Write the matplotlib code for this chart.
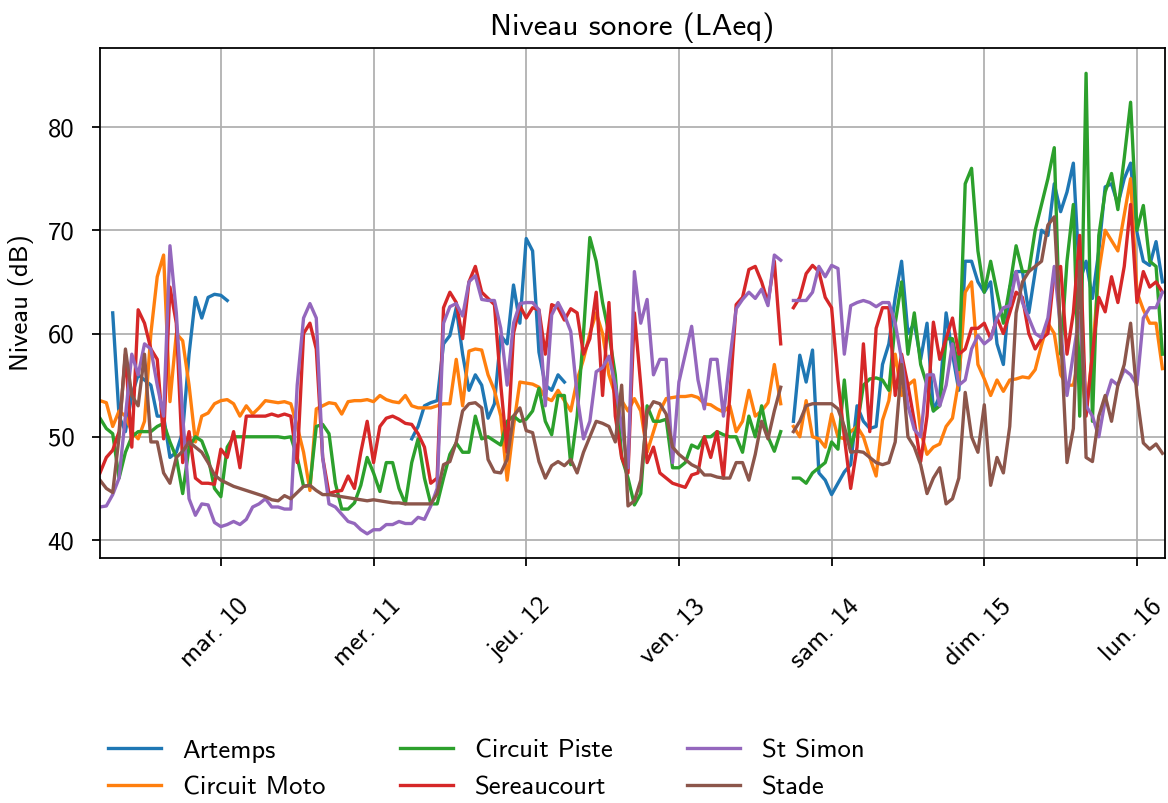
import numpy as np
import pandas as pd
import matplotlib
matplotlib.use("Agg")
import matplotlib.pyplot as plt
import matplotlib.transforms as mtransforms

nan = float("nan")

# ---------------- data (hourly, 2020-03-09 05:00 -> 2020-03-16 04:00) ----------------
start_time = "2020-03-09 05:00"
n_points = 168

artemps = [
    nan, nan, 62, 52, 50.5, 54, 56, 55.5, 55, 52, 52, 48, 48.5, 50.5, 58, 63.5, 61.5, 63.5, 63.8, 63.7, 63.2,
    nan, nan, nan, nan, nan, nan,
    nan, nan, nan, nan, nan, nan, nan, nan, nan, nan, nan, nan, nan, nan, nan, nan, nan, nan, nan, nan, nan, nan,
    49.8, 51, 53, 53.3, 53.5,
    59, 59.8, 62.5, 58, 54.5, 56, 55, 51.8, 53.2, 59.8, 59, 64.7, 61, 69.2, 68, 58.2, 55, 54.5, 56, 55.3,
    nan, nan, nan, nan, nan, nan, nan, nan,
    nan, nan, nan, nan, nan, nan, nan, nan, nan, nan, nan, nan, nan, nan, nan, nan, nan, nan, nan, nan, nan, nan,
    nan, nan, nan, nan, nan,
    51.5, 57.9, 55.3, 58.4, 46.5, 45.8, 44.4, 45.5, 46.6, 47.3, 53, 51.5, 50.8, 51, 57, 59, 63.5, 67, 60, 61,
    57.5, 61, 52.5, 54, 62, 58, 54.5, 67, 67, 65,
    64, 65, 59, 57, 64.5, 66, 66, 62, 66, 70, 69.5, 74.5, 71.8, 73.7, 76.5, 65, 67, 63.4, 68, 74.2, 74.5, 72.5,
    75, 76.5, 69.8, 67, 66.6, 68.9, 65,
]

circuit_moto = [
    53.5, 53.3, 51, 52.5, 52, 50.5, 49.8, 51.5, 60, 65.5, 67.6, 53.4, 60, 59.3, 55, 49.5, 52, 52.3, 53.2, 53.5,
    53.6, 53.2, 52, 53, 52.2, 52.8, 53.5,
    53.4, 53.3, 53.4, 53.2, 51, 48.5, 44.8, 52.7, 53, 53.3, 53.2, 52.2, 53.4, 53.5, 53.5, 53.6, 53.4, 54, 53.6,
    53.4, 53.3, 54, 53, 52.8, 52.8, 52.8, 53,
    53.2, 53.2, 57.5, 53, 58.3, 58.5, 58.4, 56, 54.5, 52, 45.8, 51, 55.3, 55.2, 55.1, 54.8, 53.8, 53.5, 54.5,
    53.5, 52.5, 55.5, 57.5, 60, 62, 60, 56, 54,
    53.5, 52.5, 53.7, 52.5, 48.5, 50.5, 52.5, 53.7, 53.8, 53.9, 53.9, 54, 53.8, 53.2, 53.1, 52.7, 52.4, 53,
    50.5, 51.5, 54.5, 52, 52.5, 53.3, 57, 53.2, nan,
    51, 50, 53.5, 50, 49.8, 49, 52.2, 50, 49.8, 50.5, 51, 50, 48, 46.2, 51.6, 53.5, 58, 54, 55, 55.5, 50.5,
    48.3, 49, 49.3, 51, 51.8, 55.5, 64, 65, 57,
    55.6, 54, 55.5, 54.4, 55.5, 55.6, 55.8, 55.7, 56.5, 58.9, 61, 60, 56, 55, 55, 58, 52.4, 58, 66, 70, 69, 68,
    71.5, 75, 64, 62.3, 61, 61, 56.6,
]

circuit_piste = [
    51.8, 50.8, 50.3, 46, 48.5, 50, 50.5, 50.5, 50.5, 51, 51.3, 49.5, 48, 44.5, 49, 50, 49.6, 48, 45, 44.2,
    49, 50, 50, 50, 50, 50, 50,
    50, 50, 49.9, 50, 48, 45.2, 45.3, 51, 51.2, 50.3, 45.5, 43, 43, 43.6, 45.3, 48, 46.5, 44.7, 47.5, 47.5,
    45, 43.5, 47.5, 49.8, 46, 43.5, 43.5,
    46, 48.3, 49.4, 48.5, 48.5, 52, 49.8, 50, 49.6, 49.2, 51.5, 52, 51.5, 51.7, 52.5, 54.7, 51.5, 50.2, 54,
    54, 47.3, 52, 60, 69.3, 67, 63, 60, 56,
    48, 46, 43.4, 44.5, 53, 51.5, 51.5, 51.7, 47, 47, 47.5, 49.2, 48.9, 50, 50, 50.5, 50.2, 50, 50, 48.5, 52,
    50, 53, 50, 48.6, 50.5, nan,
    46, 46, 45.5, 46.5, 47, 47.5, 49.5, 48.8, 55.5, 49, 51, 55, 55.6, 55.7, 55.5, 54.5, 61, 65, 58, 62, 57,
    55, 52.5, 53, 59.5, 59.5, 56.5, 74.5, 76, 68,
    64, 67, 64, 61, 64.5, 68.5, 66, 66, 70, 72.5, 75, 78, 58, 67, 72.5, 52, 85.2, 51.5, 69.5, 73.7, 75.5, 72,
    77, 82.4, 70, 72.4, 67, 66.5, 58,
]

sereaucourt = [
    46.5, 48, 48.7, 50.5, 58, 49, 62.3, 61, 58.5, 57.5, 49.8, 64.5, 61, 47.5, 50.5, 46, 45.5, 45.5, 45.4,
    48.8, 48, 50.5, 47, 52, 52, 52, 52,
    52.2, 52, 52.2, 52, 47.5, 60, 61, 58.5, 48, 44.5, 44.7, 44.8, 46.2, 45, 48.5, 51.5, 47.5, 51, 51.8, 52,
    51.7, 51.3, 51.2, 50.3, 49, 45.5, 46,
    62.5, 64, 63, 59.5, 65, 66.5, 64, 63.4, 62.8, 55, 48.5, 60, 62.7, 61.5, 62.5, 62.3, 58, 62.8, 62.5, 61.3,
    62.4, 62, 58, 59.5, 64, 54, 63, 52,
    48, 46.5, 62, 55, 47.5, 49, 46.5, 46, 45.5, 45.3, 45.1, 46.3, 46.5, 50, 48, 50.5, 46, 54, 62.8, 63.5,
    66.2, 66.5, 65, 63, 67, 59, nan,
    62.5, 63.5, 65.8, 66.6, 66, 63.5, 62.5, 55.5, 50, 45, 49, 59, 50.5, 60.5, 62.5, 62.5, 54, 58, 55, 51.5,
    47.6, 52, 61.1, 57.5, 59.5, 61.5, 58, 58.5, 60.5, 60.5,
    61, 59.5, 61.5, 60, 62, 64, 63.5, 60, 58.5, 59.5, 60, 66, 66.5, 58, 62, 69.5, 52, 58, 63.5, 62.1, 65.5,
    63, 66.5, 72.5, 63, 66, 64.5, 65, 64,
]

st_simon = [
    43.2, 43.3, 44.4, 46, 52, 58, 56, 59, 58.5, 55, 52, 68.5, 62, 52, 44, 42.4, 43.5, 43.4, 41.7, 41.3, 41.5,
    41.8, 41.5, 42, 43.2, 43.5, 44,
    43.2, 43.2, 43, 43, 55, 61.5, 62.9, 61.5, 48, 43.5, 43.2, 42.5, 41.8, 41.6, 41, 40.6, 41, 41, 41.5, 41.5,
    41.8, 41.6, 41.6, 42.2, 42, 43.3, 45,
    61, 62.6, 62.9, 61.7, 65, 65.6, 63.3, 63.2, 63.2, 60.5, 55, 61, 62.9, 63, 63, 62.3, 53, 61.8, 63, 61.8,
    60.2, 54, 49.8, 51.5, 56.3, 56.7, 57.8, 55,
    51, 47, 66, 61, 63.3, 56, 57.5, 57.5, 47.5, 55.3, 58, 60.7, 55.5, 52.7, 57.5, 57.5, 52, 57.5, 62.4, 63.3,
    64, 63.4, 64.3, 62.7, 67.6, 67.1, nan,
    63.2, 63.2, 63.2, 64, 66.5, 65.5, 66.6, 66.3, 58, 62.7, 63, 63.2, 63, 62.6, 63, 63, 61, 57.5, 53, 50.7,
    50, 56, 56, 53, 55, 59, 55, 55.5, 58.5, 59.8,
    59, 59.5, 61.5, 62.5, 62.7, 66, 63, 61.5, 60, 59.6, 61.5, 66.5, 60.5, 54, 58, 62, 53, 52, 50, 53.5, 55.5,
    55, 56.5, 56, 55, 61.5, 62.5, 62.5, 64,
]

stade = [
    45.8, 45, 44.6, 50, 58.5, 54, 53, 58, 49.5, 49.5, 46.5, 45.5, 48, 48.6, 49.5, 49, 48.5, 47.5, 46.3, 45.8,
    45.5, 45.2, 45, 44.8, 44.6, 44.4, 44.2,
    43.9, 43.8, 44.3, 44, 44.6, 45.2, 45.3, 44.8, 44.4, 44.4, 44.3, 44.2, 44.1, 44, 43.9, 43.8, 43.9, 43.8,
    43.7, 43.6, 43.6, 43.5, 43.5, 43.5, 43.5, 43.5, 44.5,
    47.3, 47.6, 49.5, 52.5, 53.2, 53.3, 52.8, 47.8, 46.6, 46.5, 47.8, 52, 52.8, 50.6, 50.4, 47.6, 46, 47.2,
    47.6, 47.2, 47.8, 46.5, 48.5, 50, 51.5, 51.3, 51, 49.5,
    55, 43.3, 43.8, 45.8, 52.4, 53.4, 53.2, 52.2, 49, 48.3, 47.8, 47.3, 47, 46.3, 46.3, 46.1, 46, 46, 47.5,
    47.5, 45.8, 48.3, 51.5, 49.8, 52.5, 54.8, nan,
    50.5, 51.5, 53, 53.2, 53.2, 53.2, 53.2, 52.7, 51, 48.5, 48.6, 48.5, 48, 47.5, 47.3, 47.5, 49.5, 57, 50,
    49, 47.3, 44.5, 46, 47, 43.5, 44, 46, 54.3, 50, 48.5,
    53.1, 45.3, 48, 46.5, 51, 62, 65, 66, 66.5, 67, 70.5, 71.3, 60, 47.5, 50.8, 67, 48, 47.6, 52, 54, 51.5,
    55, 57, 61, 54, 49.4, 48.8, 49.3, 48.4,
]

series_names = ["Artemps", "Circuit Moto", "Circuit Piste", "Sereaucourt", "St Simon", "Stade"]
series_values = [artemps, circuit_moto, circuit_piste, sereaucourt, st_simon, stade]

day_ticks = ["2020-03-10", "2020-03-11", "2020-03-12", "2020-03-13", "2020-03-14", "2020-03-15", "2020-03-16"]
day_labels = ["mar. 10", "mer. 11", "jeu. 12", "ven. 13", "sam. 14", "dim. 15", "lun. 16"]

title = "Niveau sonore (LAeq)"
ylabel = "Niveau (dB)"

# ---------------- plotting ----------------
plt.rcParams["font.family"] = ["cmss10", "DejaVu Sans"]
plt.rcParams["axes.unicode_minus"] = False
plt.rcParams["mathtext.fontset"] = "cm"
plt.rcParams["font.size"] = 12

DPI = 160
times = pd.date_range(start_time, periods=n_points, freq="h")

fig = plt.figure(figsize=(1168 / DPI, 803 / DPI), dpi=DPI)
ax = fig.add_axes([0.0856, 0.3051, 0.9118, 0.6351])

colors = ["C0", "C1", "C2", "C3", "C4", "C5"]
for name, vals, c in zip(series_names, series_values, colors):
    ax.plot(times, np.asarray(vals, dtype=float), color=c, lw=1.5, label=name)

ax.set_xlim(times[0], times[-1] + pd.Timedelta(minutes=24))
ax.set_ylim(38.26, 87.65)
ax.set_yticks([40, 50, 60, 70, 80])

ax.set_xticks(pd.to_datetime(day_ticks))
ax.set_xticklabels(day_labels, rotation=45, ha="center")
ax.tick_params(axis="x", pad=13)
ax.tick_params(axis="y", pad=8)
shift = mtransforms.ScaledTranslation(-6 / DPI, 0, fig.dpi_scale_trans)
for lbl in ax.get_xticklabels():
    lbl.set_transform(lbl.get_transform() + shift)

ax.grid(True, color="#b0b0b0", linewidth=0.8)
ax.set_axisbelow(True)

ax.set_title(title, fontsize=14, pad=6)
ax.set_ylabel(ylabel, labelpad=6)

handles, labels = ax.get_legend_handles_labels()
fig.legend(handles, labels, loc="upper left", bbox_to_anchor=(0.072, 0.1096),
           ncol=3, frameon=False, handlelength=2.0, columnspacing=2.8)

fig.savefig("out.png", dpi=DPI)
